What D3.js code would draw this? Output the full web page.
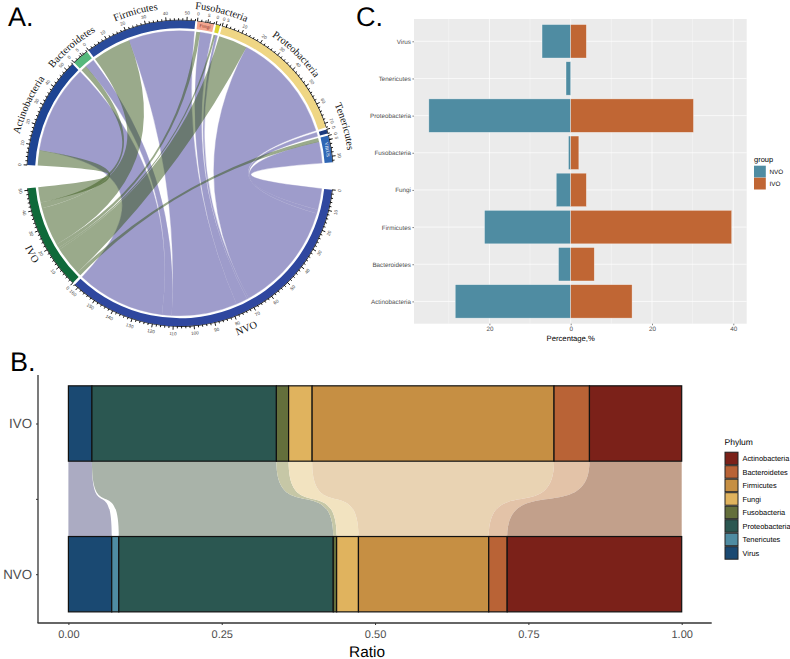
<!DOCTYPE html>
<html>
<head>
<meta charset="utf-8">
<script src="https://cdn.jsdelivr.net/npm/d3@7"></script>
<style>
  html, body { margin: 0; padding: 0; background: #fff; }
  svg { display: block; }
  text { font-family: "Liberation Sans", Arial, sans-serif; text-rendering: geometricPrecision; }
  .serif { font-family: "Liberation Serif", "Times New Roman", serif; }
</style>
</head>
<body>
<svg id="fig" width="790" height="659"></svg>
<script>
// phyla, alphabetical like the legends
const phyla = ["Actinobacteria", "Bacteroidetes", "Firmicutes", "Fungi", "Fusobacteria", "Proteobacteria", "Tenericutes", "Virus"];
const groups = ["NVO", "IVO"];

// percentages (panels B and C)
const nvoPct = [28.4, 3.0, 21.2, 3.55, 0.55, 34.9, 1.15, 7.05];
const ivoPct = [15.1, 5.8, 39.6, 3.85, 2.0, 30.2, 0, 3.85];

// counts (panel A)
const nvoCount = [46, 5, 34, 6, 1, 57, 2, 11];
const ivoCount = [8, 3, 20, 2, 1, 15, 0, 2];

const ratioTicks = [0, 0.25, 0.5, 0.75, 1];
const pctTicks = [-20, 0, 20, 40];
const pctMinor = [-30, -10, 10, 30];

const phylumFill = ["#7b2119", "#b96336", "#c68f43", "#e0b35e", "#646f3b", "#2b5751", "#4f8ca2", "#1a4972"];
const flowFill = ["#c2a08b", "#e3c3a8", "#e9d3b3", "#f2e3c0", "#c6c7a6", "#a9b3a9", "none", "#ababc2"];
const ringFill = ["#1d4493", "#55b87c", "#2a4b9b", "#f4a58e", "#d9d52e", "#efd684", "#1c3a7d", "#2f66b4"];
const groupRing = ["#2f479f", "#0f6a3a"];
const groupRibbon = ["#9e9ccb", "#355517"];
const barFill = ["#4f8ca2", "#c06634"];

const svg = d3.select("#fig");

// panel letters
[["A.", 8, 26], ["B.", 10, 371], ["C.", 356, 26]].forEach(d => {
  svg.append("text").attr("x", d[1]).attr("y", d[2]).attr("font-size", 27).attr("fill", "#000").text(d[0]);
});

drawChord();
drawAlluvial();
drawPyramid();

function drawChord() {
  const g = svg.append("g").attr("transform", "translate(180,173.3)");
  const rad = d3.scaleLinear().domain([0, 360]).range([0, 2 * Math.PI]);
  const perUnit = 0.785, smallGap = 0.8;
  const ringIn = 145, ringOut = 153, ribbonR = 142.5;

  // lay sectors out clockwise
  const sectors = [];
  let a = -86.9;
  phyla.forEach((name, i) => {
    const total = nvoCount[i] + ivoCount[i];
    sectors.push({ name, total, start: a, end: a + total * perUnit, fill: ringFill[i], flip: false });
    a += total * perUnit + smallGap;
  });
  a = 96.2;
  groups.forEach((name, i) => {
    const total = d3.sum(i == 0 ? nvoCount : ivoCount);
    sectors.push({ name, total, start: a, end: a + total * perUnit, fill: groupRing[i], flip: true });
    a += total * perUnit + 1;
  });

  // ribbon ends; IVO first inside each phylum, group sectors filled from Virus back to Actinobacteria
  const ribbons = [];
  const nvoSector = sectors[8], ivoSector = sectors[9];
  let nvoPos = nvoSector.start, ivoPos = ivoSector.start;
  const phylumEnds = phyla.map((name, i) => {
    const s = sectors[i];
    const mid = s.start + ivoCount[i] * perUnit;
    return { ivo: [s.start, mid], nvo: [mid, s.end] };
  });
  for (let i = phyla.length - 1; i >= 0; i--) {
    if (nvoCount[i] > 0) {
      ribbons.push({ g: 0, s: phylumEnds[i].nvo, t: [nvoPos, nvoPos + nvoCount[i] * perUnit] });
      nvoPos += nvoCount[i] * perUnit;
    }
    if (ivoCount[i] > 0) {
      ribbons.push({ g: 1, s: phylumEnds[i].ivo, t: [ivoPos, ivoPos + ivoCount[i] * perUnit] });
      ivoPos += ivoCount[i] * perUnit;
    }
  }
  ribbons.sort((p, q) => p.g - q.g);

  const ribbon = d3.ribbon().radius(ribbonR);
  g.selectAll("path.ribbon").data(ribbons).join("path")
    .attr("class", "ribbon")
    .attr("d", d => ribbon({
      source: { startAngle: rad(d.s[0]), endAngle: rad(d.s[1]) },
      target: { startAngle: rad(d.t[0]), endAngle: rad(d.t[1]) }
    }))
    .attr("fill", d => groupRibbon[d.g])
    .attr("fill-opacity", d => d.g == 1 ? 0.5 : 1)
    .attr("stroke", d => d.g == 0 ? groupRibbon[0] : "none")
    .attr("stroke-width", 0.4);

  // ring
  const ring = d3.arc().innerRadius(ringIn).outerRadius(ringOut);
  g.selectAll("path.ring").data(sectors).join("path")
    .attr("class", "ring")
    .attr("d", d => ring({ startAngle: rad(d.start), endAngle: rad(d.end) }))
    .attr("fill", d => d.fill);

  // axis on the outside of each sector
  const line = d3.arc().innerRadius(ringOut).outerRadius(ringOut + 0.6);
  sectors.forEach(s => {
    const pos = d3.scaleLinear().domain([0, s.total]).range([s.start, s.end]);
    g.append("path").attr("d", line({ startAngle: rad(s.start), endAngle: rad(s.end) })).attr("fill", "#000");
    const labelStep = s.total < 10 ? 5 : 10;
    d3.range(0, s.total + 0.01, 2).concat(labelStep == 5 ? [5] : []).forEach(v => {
      const major = v % labelStep == 0;
      const p0 = d3.pointRadial(rad(pos(v)), ringOut);
      const p1 = d3.pointRadial(rad(pos(v)), ringOut + (major ? 3.6 : 2.1));
      g.append("line").attr("x1", p0[0]).attr("y1", p0[1]).attr("x2", p1[0]).attr("y2", p1[1])
        .attr("stroke", "#000").attr("stroke-width", 0.9);
      if (major) {
        const p = d3.pointRadial(rad(pos(v)), ringOut + 7.5);
        const deg = pos(v);
        const turn = (deg > 90 && deg < 270) ? deg + 180 : deg;
        g.append("text")
          .attr("transform", "translate(" + p[0] + "," + p[1] + ") rotate(" + turn + ")")
          .attr("text-anchor", "middle").attr("dy", "0.35em")
          .attr("font-size", 4.6).attr("fill", "#444").text(v);
      }
    });
  });

  // curved names
  const defs = svg.append("defs");
  function curve(id, mid, r, flip, half) {
    const p0 = d3.pointRadial(rad(flip ? mid + half : mid - half), r);
    const p1 = d3.pointRadial(rad(flip ? mid - half : mid + half), r);
    defs.append("path").attr("id", id)
      .attr("d", "M" + p0 + "A" + r + "," + r + " 0 0 " + (flip ? 0 : 1) + " " + p1);
  }
  sectors.forEach((s, i) => {
    if (s.name == "Fungi" || s.name == "Virus") return; // these two sit inside the ring
    const id = "name" + i;
    const mid = (s.start + s.end) / 2 - (s.flip ? 3 : 0);
    const r = s.flip ? 172 : (s.name == "Tenericutes" ? 169 : 165);
    curve(id, mid, r, s.flip, 45);
    g.append("text").attr("class", "serif").attr("font-size", 10.4).attr("fill", "#111")
      .append("textPath").attr("href", "#" + id).attr("startOffset", "50%").attr("text-anchor", "middle")
      .text(s.name);
  });

  // small names inside the ring
  [[3, "Fungi", "#7a2a1e"], [7, "VIRUS", "#fff"]].forEach(d => {
    const s = sectors[d[0]], id = "inner" + d[0];
    curve(id, (s.start + s.end) / 2, 147.6, false, 30);
    g.append("text").attr("class", "serif").attr("font-size", 4.8).attr("fill", d[2])
      .append("textPath").attr("href", "#" + id).attr("startOffset", "50%").attr("text-anchor", "middle")
      .text(d[1]);
  });
}

function drawAlluvial() {
  const g = svg.append("g");
  const x = d3.scaleLinear().domain([0, 1]).range([68.4, 681.7]);
  const y = d3.scalePoint().domain(["IVO", "", "NVO"]).range([423.5, 574.2]);
  const barH = y.step();

  const rows = [ivoPct, nvoPct].map((vals, i) => {
    const r = { group: i == 0 ? "IVO" : "NVO" };
    phyla.forEach((p, j) => { r[p] = vals[j]; });
    return r;
  });
  const stackOrder = phyla.slice().reverse();
  const stacked = d3.stack().keys(stackOrder).offset(d3.stackOffsetExpand)(rows);

  // flows between the two bars
  const yTop = y("IVO") + barH / 2, yBot = y("NVO") - barH / 2;
  const bend = (yBot - yTop) * 0.85;
  stacked.forEach(layer => {
    const fill = flowFill[phyla.indexOf(layer.key)];
    if (fill == "none") return;
    const t0 = x(layer[0][0]), t1 = x(layer[0][1]), b0 = x(layer[1][0]), b1 = x(layer[1][1]);
    const p = d3.path();
    p.moveTo(t0, yTop);
    p.bezierCurveTo(t0, yTop + bend, b0, yBot - bend, b0, yBot);
    p.lineTo(b1, yBot);
    p.bezierCurveTo(b1, yBot - bend, t1, yTop + bend, t1, yTop);
    p.closePath();
    g.append("path").attr("d", p.toString()).attr("fill", fill);
  });

  // bars
  stacked.forEach(layer => {
    g.selectAll(null).data(layer.filter(d => d[1] > d[0])).join("rect")
      .attr("x", d => x(d[0]))
      .attr("width", d => x(d[1]) - x(d[0]))
      .attr("y", d => y(d.data.group) - barH / 2)
      .attr("height", barH)
      .attr("fill", phylumFill[phyla.indexOf(layer.key)])
      .attr("stroke", "#111")
      .attr("stroke-width", 1.2);
  });

  // axes
  const xAxis = g.append("g").attr("transform", "translate(0,623)")
    .call(d3.axisBottom(x).tickValues(ratioTicks).tickFormat(d3.format(".2f")).tickSize(2).tickPadding(5));
  xAxis.select(".domain").remove();
  xAxis.selectAll("text").attr("font-size", 11).attr("fill", "#4d4d4d").attr("font-family", "Liberation Sans");
  xAxis.selectAll("line").attr("stroke", "#333");
  g.append("line").attr("x1", 37.5).attr("x2", 711.7).attr("y1", 623).attr("y2", 623).attr("stroke", "#333").attr("stroke-width", 1.3);

  const yAxis = g.append("g").attr("transform", "translate(38,0)")
    .call(d3.axisLeft(y).tickSize(2).tickPadding(4));
  yAxis.select(".domain").remove();
  yAxis.selectAll("text").attr("font-size", 13.3).attr("fill", "#4d4d4d").attr("font-family", "Liberation Sans");
  yAxis.selectAll("line").attr("stroke", "#333");
  g.append("line").attr("x1", 38).attr("x2", 38).attr("y1", 375).attr("y2", 623).attr("stroke", "#333").attr("stroke-width", 1.3);

  g.append("text").attr("x", 367).attr("y", 656.5).attr("text-anchor", "middle")
    .attr("font-size", 15.4).attr("fill", "#000").text("Ratio");

  // legend
  const legend = g.append("g").attr("transform", "translate(724.5,451.7)");
  legend.append("text").attr("x", 0).attr("y", -6.5).attr("font-size", 8.5).attr("fill", "#000").text("Phylum");
  phyla.forEach((p, i) => {
    legend.append("rect").attr("x", 0.5).attr("y", i * 13.5 + 0.5).attr("width", 13).attr("height", 12.5)
      .attr("fill", phylumFill[i]).attr("stroke", "#222").attr("stroke-width", 1);
    legend.append("text").attr("x", 18).attr("y", i * 13.5 + 6.75).attr("dy", "0.35em")
      .attr("font-size", 7.4).attr("fill", "#000").text(p);
  });
}

function drawPyramid() {
  const g = svg.append("g");
  const left = 414, right = 746.7, top = 19, bottom = 323.7;
  const x = d3.scaleLinear().domain([-38.55, 43.3]).range([left, right]);
  const y = d3.scalePoint().domain(phyla).range([bottom, top]).padding(0.6);
  const barH = y.step() * 0.9;

  g.append("rect").attr("x", left).attr("y", top).attr("width", right - left).attr("height", bottom - top).attr("fill", "#ebebeb");
  pctMinor.forEach(v => {
    g.append("line").attr("x1", x(v)).attr("x2", x(v)).attr("y1", top).attr("y2", bottom).attr("stroke", "#fff").attr("stroke-width", 0.35);
  });
  pctTicks.forEach(v => {
    g.append("line").attr("x1", x(v)).attr("x2", x(v)).attr("y1", top).attr("y2", bottom).attr("stroke", "#fff").attr("stroke-width", 0.7);
  });
  phyla.forEach(p => {
    g.append("line").attr("x1", left).attr("x2", right).attr("y1", y(p)).attr("y2", y(p)).attr("stroke", "#fff").attr("stroke-width", 0.7);
  });

  [nvoPct, ivoPct].forEach((vals, k) => {
    g.selectAll(null).data(phyla.map((p, i) => ({ p, v: vals[i] })).filter(d => d.v > 0)).join("rect")
      .attr("x", d => k == 0 ? x(-d.v) : x(0))
      .attr("width", d => k == 0 ? x(0) - x(-d.v) : x(d.v) - x(0))
      .attr("y", d => y(d.p) - barH / 2)
      .attr("height", barH)
      .attr("fill", barFill[k])
      .attr("stroke", "#fff")
      .attr("stroke-opacity", 0.55)
      .attr("stroke-width", 0.6);
  });

  const xAxis = g.append("g").attr("transform", "translate(0," + bottom + ")")
    .call(d3.axisBottom(x).tickValues(pctTicks).tickFormat(Math.abs).tickSize(1.6).tickPadding(1.5));
  xAxis.select(".domain").remove();
  xAxis.selectAll("text").attr("font-size", 6.3).attr("fill", "#4d4d4d").attr("font-family", "Liberation Sans");
  xAxis.selectAll("line").attr("stroke", "#333").attr("stroke-width", 0.6);

  const yAxis = g.append("g").attr("transform", "translate(" + left + ",0)")
    .call(d3.axisLeft(y).tickSize(1.6).tickPadding(1.5));
  yAxis.select(".domain").remove();
  yAxis.selectAll("text").attr("font-size", 6.3).attr("fill", "#4d4d4d").attr("font-family", "Liberation Sans");
  yAxis.selectAll("line").attr("stroke", "#333").attr("stroke-width", 0.6);

  g.append("text").attr("x", x(0)).attr("y", 340.5).attr("text-anchor", "middle")
    .attr("font-size", 7.7).attr("fill", "#000").text("Percentage,%");

  // legend
  const legend = g.append("g").attr("transform", "translate(754,165.7)");
  legend.append("text").attr("x", 0).attr("y", -4).attr("font-size", 7.5).attr("fill", "#000").text("group");
  groups.forEach((name, i) => {
    legend.append("rect").attr("x", 0).attr("y", i * 12).attr("width", 11.8).attr("height", 11.8).attr("fill", barFill[i]);
    legend.append("text").attr("x", 15.5).attr("y", i * 12 + 5.9).attr("dy", "0.35em")
      .attr("font-size", 6.3).attr("fill", "#000").text(name);
  });
}
</script>
</body>
</html>
